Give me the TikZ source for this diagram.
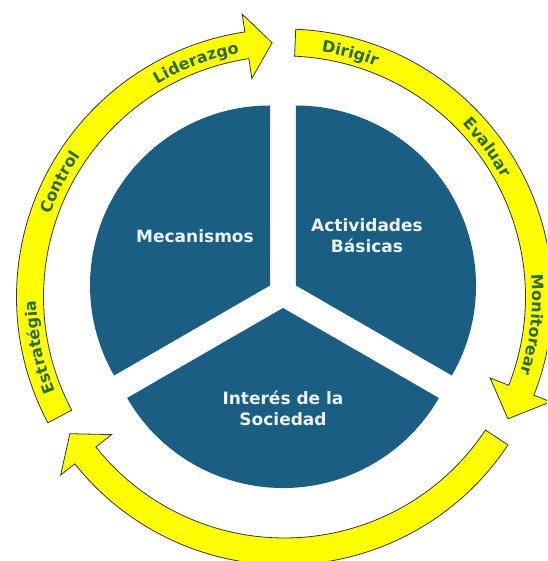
\documentclass[tikz,border=0pt]{standalone}
\usepackage{fontspec}
\setmainfont{DejaVu Sans}
\usetikzlibrary{decorations.text}
\definecolor{piecol}{HTML}{1A5E83}
\definecolor{arrowyellow}{HTML}{FFFF00}
\definecolor{labelgreen}{HTML}{2D6A35}
\definecolor{pietext}{HTML}{EEF5FA}
\newcommand{\arcfont}{\bfseries\fontsize{16}{18}\selectfont}
% tail angle, head-base angle, tip angle
\newcommand{\drawringarrow}[3]{%
  \path[ringarrow] (#1:268pt) arc[start angle=#1,end angle=#2,radius=268pt]
    -- (#2:286pt) -- (#3:254.5pt) -- (#2:221pt) -- (#2:241pt)
    arc[start angle=#2,end angle=#1,radius=241pt] -- cycle;}
% centre angle, text
\newcommand{\arclabel}[2]{%
  \pgfmathsetmacro{\arcA}{#1+35}%
  \pgfmathsetmacro{\arcB}{#1-35}%
  \path[decorate,decoration={text along path,text align=center,
      text color=labelgreen,text={|\arcfont|#2}}]
    (\arcA:248pt) arc[start angle=\arcA,end angle=\arcB,radius=248pt];}
\begin{document}
\begin{tikzpicture}[x=1pt,y=1pt,
  piesector/.style={fill=piecol},
  ringarrow/.style={fill=arrowyellow,draw=black!80,line width=0.8pt,line join=miter},
  pielabel/.style={text=pietext,font=\bfseries\fontsize{17}{21}\selectfont,align=center}]
\useasboundingbox (0,0) rectangle (547,561);
\clip (0,0) rectangle (547,561);
\fill[white] (0,0) rectangle (547,561);
\coordinate (P) at (283,268);
\coordinate (C) at (284.5,264);
% exploded pie
\begin{scope}[shift={(P)}]
  \fill[piesector] (150:15pt) -- ++(90:180pt) arc[start angle=90,end angle=210,radius=180pt] -- cycle;
  \fill[piesector] (30:15pt) -- ++(-30:180pt) arc[start angle=-30,end angle=90,radius=180pt] -- cycle;
  \fill[piesector] (270:15pt) -- ++(210:180pt) arc[start angle=210,end angle=330,radius=180pt] -- cycle;
\end{scope}
\node[pielabel] (mec) at (195,325) {Mecanismos};
\node[pielabel] (act) at (367,325) {Actividades\\Básicas};
\node[pielabel] (int) at (283,153) {Interés de la\\Sociedad};
% ring of arrows
\begin{scope}[shift={(C)}]
  \drawringarrow{208}{98.5}{92.8}
  \drawringarrow{87.6}{-21.5}{-28.6}
  \drawringarrow{-33.5}{-141.5}{-147.5}
  \arclabel{191.6}{Estratégia}
  \arclabel{153}{Control}
  \arclabel{110.7}{Liderazgo}
  \arclabel{74.9}{Dirigir}
  \arclabel{36.4}{Evaluar}
  \arclabel{-6.4}{Monitorear}
\end{scope}
\end{tikzpicture}
\end{document}
